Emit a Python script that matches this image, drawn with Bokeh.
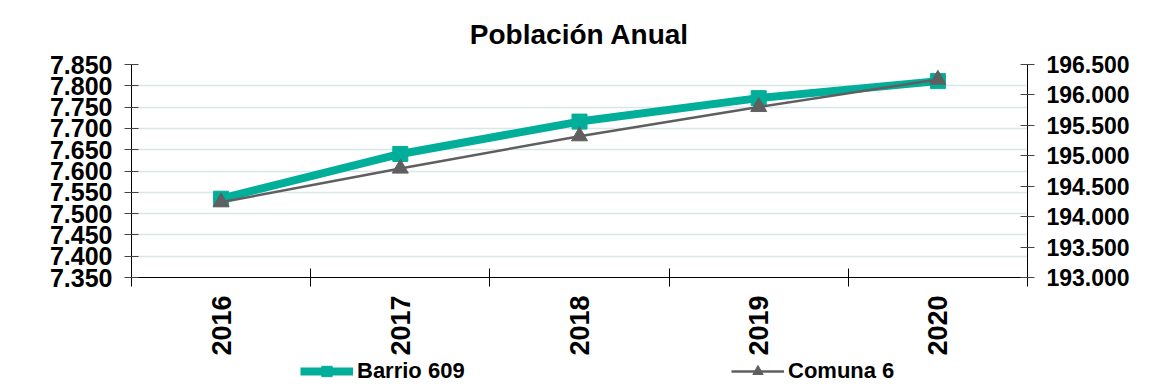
import math
from bokeh.plotting import figure
from bokeh.layouts import column
from bokeh.models import (Range1d, LinearAxis, SingleIntervalTicker, FixedTicker,
                          CustomJSTickFormatter, Legend, LegendItem)
from bokeh.embed import file_html
from bokeh.resources import INLINE

# ---- data ----
years = [2016, 2017, 2018, 2019, 2020]
barrio_609 = [7535, 7640, 7716, 7771, 7811]
comuna_6 = [194237, 194791, 195322, 195803, 196253]
title_text = "Población Anual"
series_names = ["Barrio 609", "Comuna 6"]

FONT = "Liberation Sans"
TEAL = "#00AE9A"
GRAY = "#5F5F5F"

p = figure(frame_width=896, frame_height=213, output_backend="svg", toolbar_location=None,
           x_range=Range1d(years[0] - 0.5, years[-1] + 0.5),
           y_range=Range1d(7350, 7850),
           min_border_left=131, min_border_right=133, min_border_top=64,
           min_border_bottom=0)
p.outline_line_color = None
p.background_fill_color = "white"
p.border_fill_color = "white"

# title
p.title.text = title_text
p.title.align = "center"
p.title.text_font = FONT
p.title.text_font_size = "28px"
p.title.text_font_style = "bold"
p.title.text_color = "black"
p.title.standoff = 30

thousands = r"return tick.toFixed(0).replace(/\B(?=(\d{3})+(?!\d))/g, '.');"

# left axis
ly = p.yaxis[0]
ly.ticker = SingleIntervalTicker(interval=50, num_minor_ticks=0)
ly.formatter = CustomJSTickFormatter(code=thousands)
ly.major_label_text_font = FONT
ly.major_label_text_font_size = "25px"
ly.major_label_text_font_style = "bold"
ly.major_label_text_color = "black"
ly.major_tick_in = 7
ly.major_tick_out = 7
ly.major_tick_line_color = "#444444"
ly.minor_tick_line_color = None
ly.axis_line_color = "black"
ly.major_label_standoff = 12

# right axis
p.extra_y_ranges = {"right": Range1d(193000, 196500)}
ry = LinearAxis(y_range_name="right",
                ticker=SingleIntervalTicker(interval=500, num_minor_ticks=0),
                formatter=CustomJSTickFormatter(code=thousands))
ry.major_label_text_font = FONT
ry.major_label_text_font_size = "23px"
ry.major_label_text_font_style = "bold"
ry.major_label_text_color = "black"
ry.major_tick_in = 7
ry.major_tick_out = 7
ry.major_tick_line_color = "#444444"
ry.minor_tick_line_color = None
ry.axis_line_color = "black"
ry.major_label_standoff = 12
p.add_layout(ry, "right")

# x axis
xa = p.xaxis[0]
xa.ticker = FixedTicker(ticks=years, minor_ticks=[y - 0.5 for y in years] + [years[-1] + 0.5])
xa.formatter = CustomJSTickFormatter(code="return tick.toFixed(0);")
xa.major_label_orientation = math.pi / 2
xa.major_label_text_font = FONT
xa.major_label_text_font_size = "27px"
xa.major_label_text_font_style = "bold"
xa.major_label_text_color = "black"
xa.major_tick_in = 0
xa.major_tick_out = 0
xa.minor_tick_in = 9
xa.minor_tick_out = 9
xa.minor_tick_line_color = "black"
xa.axis_line_color = "black"
xa.major_label_standoff = 9

# grid
p.xgrid.visible = False
p.ygrid.ticker = SingleIntervalTicker(interval=50, num_minor_ticks=0)
p.ygrid.grid_line_color = "#d9e7e9"
p.ygrid.grid_line_width = 1.5

# series
p.line(years, barrio_609, line_color=TEAL, line_width=8)
p.scatter(years, barrio_609, marker="square", size=15, fill_color=TEAL, line_color=TEAL)
p.line(years, comuna_6, y_range_name="right", line_color=GRAY, line_width=2.5)
p.scatter(years, comuna_6, y_range_name="right", marker="triangle", size=16,
          fill_color=GRAY, line_color=GRAY)

# ---- legend strip below the chart (its frame is aligned with the chart's) ----
lg = figure(width=1160, height=33, output_backend="svg", toolbar_location=None,
            x_range=p.x_range, y_range=Range1d(0, 1),
            x_axis_type=None, y_axis_type=None,
            min_border_left=131, min_border_right=133, min_border_top=0, min_border_bottom=0)
lg.title.text = ""
lg.title.text_font_size = "1px"
lg.title.standoff = 0
lg.outline_line_color = None
lg.xgrid.visible = False
lg.ygrid.visible = False
lg.border_fill_color = "white"
lg.background_fill_color = "white"

# same series, drawn far outside this strip's y range: they only feed the legend glyphs
lb_line = lg.line(years, barrio_609, line_color=TEAL, line_width=8)
lb_mark = lg.scatter(years, barrio_609, marker="square", size=15, fill_color=TEAL, line_color=TEAL)
lc_line = lg.line(years, comuna_6, line_color=GRAY, line_width=2.5)
lc_mark = lg.scatter(years, comuna_6, marker="triangle", size=16, fill_color=GRAY, line_color=GRAY)

def make_legend(label, rends, x):
    return Legend(items=[LegendItem(label=label, renderers=rends)],
                  location=(x, 7), orientation="horizontal",
                  glyph_width=53, glyph_height=26, label_standoff=4,
                  padding=0, margin=0, border_line_alpha=0, background_fill_alpha=0,
                  label_text_font=FONT, label_text_font_size="22px",
                  label_text_font_style="bold", label_text_color="black")

lg.add_layout(make_legend(series_names[0], [lb_line, lb_mark], 169))
lg.add_layout(make_legend(series_names[1], [lc_line, lc_mark], 600))

layout = column(p, lg, spacing=0)
open("out.html", "w").write(file_html(layout, INLINE))
